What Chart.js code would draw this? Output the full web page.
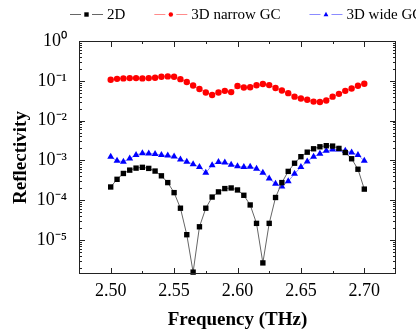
<!DOCTYPE html>
<html>
<head>
<meta charset="utf-8">
<script src="https://cdn.jsdelivr.net/npm/chart.js@4.4.1/dist/chart.umd.min.js"></script>
<style>
    html, body { margin: 0; padding: 0; background: #fff; overflow: hidden; }
    #wrap { width: 416px; height: 332px; }
</style>
</head>
<body>
<div id="wrap"><canvas id="reflectivity-chart"></canvas></div>
<script>
const frequencies = [2.500, 2.505, 2.510, 2.515, 2.520, 2.525, 2.530, 2.535, 2.540, 2.545,
    2.550, 2.555, 2.560, 2.565, 2.570, 2.575, 2.580, 2.585, 2.590, 2.595,
    2.600, 2.605, 2.610, 2.615, 2.620, 2.625, 2.630, 2.635, 2.640, 2.645,
    2.650, 2.655, 2.660, 2.665, 2.670, 2.675, 2.680, 2.685, 2.690, 2.695, 2.700];

const reflectivity_2d = [2.15e-4, 3.35e-4, 4.7e-4, 5.7e-4, 6.4e-4, 6.7e-4, 6.3e-4, 5.4e-4, 4.1e-4, 2.77e-4,
    1.55e-4, 6.3e-5, 1.36e-5, 1.56e-6, 2.15e-5, 6.3e-5, 1.2e-4, 1.62e-4, 1.96e-4, 2.03e-4,
    1.81e-4, 1.33e-4, 7.6e-5, 2.62e-5, 2.66e-6, 2.62e-5, 1.17e-4, 2.77e-4, 5.3e-4, 8.5e-4,
    1.24e-3, 1.61e-3, 1.96e-3, 2.2e-3, 2.34e-3, 2.29e-3, 2.0e-3, 1.58e-3, 1.1e-3, 6.0e-4, 1.9e-4];

const reflectivity_narrow = [0.106, 0.112, 0.115, 0.117, 0.117, 0.115, 0.117, 0.119, 0.126, 0.129,
    0.126, 0.110, 0.093, 0.076, 0.062, 0.051, 0.044, 0.051, 0.056, 0.052,
    0.074, 0.068, 0.069, 0.077, 0.083, 0.078, 0.066, 0.057, 0.049, 0.040,
    0.036, 0.0335, 0.030, 0.0293, 0.032, 0.040, 0.047, 0.056, 0.064, 0.075, 0.084];

const reflectivity_wide = [1.23e-3, 9.8e-4, 9.3e-4, 1.11e-3, 1.37e-3, 1.52e-3, 1.50e-3, 1.45e-3, 1.36e-3, 1.32e-3,
    1.25e-3, 1.06e-3, 9.3e-4, 8.0e-4, 6.8e-4, 4.9e-4, 7.6e-4, 9.1e-4, 8.9e-4, 7.8e-4,
    7.1e-4, 6.8e-4, 6.9e-4, 6.2e-4, 4.9e-4, 3.5e-4, 2.6e-4, 2.2e-4, 3.0e-4, 4.6e-4,
    6.8e-4, 9.4e-4, 1.24e-3, 1.48e-3, 1.74e-3, 1.88e-3, 1.88e-3, 1.74e-3, 1.58e-3, 1.36e-3, 9.8e-4];

const series_labels = ["2D", "3D narrow GC", "3D wide GC"];
const x_major_ticks = [2.50, 2.55, 2.60, 2.65, 2.70];
const y_major_exponents = [0, -1, -2, -3, -4, -5];

const serif = '"Liberation Serif", "Times New Roman", serif';
const superscripts = { '-': '\u207B', '0': '\u2070', '1': '\u00B9', '2': '\u00B2', '3': '\u00B3', '4': '\u2074', '5': '\u2075', '6': '\u2076' };

function to_points(values) {
    return values.map((v, i) => ({ x: frequencies[i], y: v }));
}

function is_major_x(value) {
    return x_major_ticks.some(t => Math.abs(t - value) < 1e-6);
}

function is_decade(value) {
    const e = Math.log10(value);
    return Math.abs(e - Math.round(e)) < 1e-6;
}

// frame round the plot with inward ticks on all four sides
const frame_ticks = {
    id: 'frame_ticks',
    afterDatasetsDraw(chart) {
        const { ctx, chartArea: a, scales: { x, y } } = chart;
        ctx.save();
        ctx.strokeStyle = '#222';
        ctx.lineWidth = 1;
        ctx.strokeRect(a.left + 0.5, a.top + 0.5, a.right - a.left - 1, a.bottom - a.top - 1);
        ctx.beginPath();
        x.ticks.forEach(t => {
            const px = Math.round(x.getPixelForValue(t.value)) + 0.5;
            if (px <= a.left + 1 || px >= a.right - 1) return;
            const len = is_major_x(t.value) ? 6 : 3;
            ctx.moveTo(px, a.bottom); ctx.lineTo(px, a.bottom - len);
            ctx.moveTo(px, a.top); ctx.lineTo(px, a.top + len);
        });
        y.ticks.forEach(t => {
            const py = Math.round(y.getPixelForValue(t.value)) + 0.5;
            if (py <= a.top + 1 || py >= a.bottom - 1) return;
            const len = is_decade(t.value) ? 6 : 3;
            ctx.moveTo(a.left, py); ctx.lineTo(a.left + len, py);
            ctx.moveTo(a.right, py); ctx.lineTo(a.right - len, py);
        });
        ctx.stroke();
        ctx.restore();
    }
};

function draw_marker(ctx, style, cx, cy, r) {
    ctx.beginPath();
    if (style === 'rect') {
        ctx.rect(cx - r, cy - r, 2 * r, 2 * r);
    } else if (style === 'circle') {
        ctx.arc(cx, cy, r, 0, Math.PI * 2);
    } else {
        ctx.moveTo(cx, cy - r * 1.2);
        ctx.lineTo(cx + r * 1.1, cy + r * 0.8);
        ctx.lineTo(cx - r * 1.1, cy + r * 0.8);
        ctx.closePath();
    }
    ctx.fill();
}

// legend drawn as "line - marker - line" like the original figure
const line_legend = {
    id: 'line_legend',
    afterDraw(chart) {
        const ctx = chart.ctx;
        ctx.save();
        ctx.font = '15px ' + serif;
        ctx.textBaseline = 'middle';
        let x = 70;
        const y = 14;
        chart.data.datasets.forEach(ds => {
            ctx.strokeStyle = ds.borderColor;
            ctx.lineWidth = 1;
            ctx.beginPath();
            ctx.moveTo(x, y + 0.5); ctx.lineTo(x + 11, y + 0.5);
            ctx.moveTo(x + 22, y + 0.5); ctx.lineTo(x + 33, y + 0.5);
            ctx.stroke();
            ctx.fillStyle = ds.pointBackgroundColor;
            draw_marker(ctx, ds.pointStyle, x + 16.5, y + 0.5, 2.2);
            ctx.fillStyle = '#000';
            ctx.fillText(ds.label, x + 37, y + 1);
            x += 37 + ctx.measureText(ds.label).width + 29;
        });
        ctx.restore();
    }
};

onload = () => {
    new Chart(document.getElementById('reflectivity-chart'), {
        type: 'line',
        data: {
            datasets: [
                {
                    label: series_labels[0],
                    data: to_points(reflectivity_2d),
                    borderColor: '#666',
                    borderWidth: 1,
                    pointStyle: 'rect',
                    pointRadius: 3.8,
                    pointBackgroundColor: '#000',
                    pointBorderWidth: 0,
                    clip: false
                },
                {
                    label: series_labels[1],
                    data: to_points(reflectivity_narrow),
                    borderColor: 'rgba(255, 90, 90, 0.7)',
                    borderWidth: 1,
                    pointStyle: 'circle',
                    pointRadius: 3.2,
                    pointBackgroundColor: '#f00',
                    pointBorderWidth: 0,
                    clip: false
                },
                {
                    label: series_labels[2],
                    data: to_points(reflectivity_wide),
                    borderColor: 'rgba(90, 90, 255, 0.7)',
                    borderWidth: 1,
                    pointStyle: 'triangle',
                    pointRadius: 4,
                    pointBackgroundColor: '#00f',
                    pointBorderWidth: 0,
                    clip: false
                }
            ]
        },
        options: {
            responsive: true,
            maintainAspectRatio: false,
            animation: false,
            layout: { padding: { top: 41, right: 20, left: 0, bottom: 0 } },
            scales: {
                x: {
                    type: 'linear',
                    min: 2.475,
                    max: 2.725,
                    grid: { display: false, drawTicks: false },
                    border: { display: false },
                    ticks: {
                        stepSize: 0.025,
                        autoSkip: false,
                        maxRotation: 0,
                        padding: 6,
                        color: '#000',
                        font: { family: serif, size: 18 },
                        callback: function (value) {
                            return is_major_x(value) ? value.toFixed(2) : '';
                        }
                    },
                    title: {
                        display: true,
                        text: 'Frequency (THz)',
                        color: '#000',
                        font: { family: serif, size: 19, weight: 'bold' },
                        padding: { top: 0, bottom: 1 }
                    },
                    afterFit: function (scale) {
                        scale.height = 58;
                    }
                },
                y: {
                    type: 'logarithmic',
                    min: 1.4e-6,
                    max: 1,
                    grid: { display: false, drawTicks: false },
                    border: { display: false },
                    afterBuildTicks: function (scale) {
                        const ticks = [];
                        for (let e = -6; e <= 0; e++) {
                            for (let m = 1; m <= 9; m++) {
                                const v = m * Math.pow(10, e);
                                if (v >= scale.min && v <= scale.max) ticks.push({ value: v });
                            }
                        }
                        scale.ticks = ticks;
                    },
                    ticks: {
                        autoSkip: false,
                        padding: 12,
                        color: '#000',
                        font: { family: serif, size: 18 },
                        callback: function (value) {
                            if (!is_decade(value)) return '';
                            const e = Math.round(Math.log10(value));
                            if (!y_major_exponents.includes(e)) return '';
                            return '10' + String(e).split('').map(c => superscripts[c]).join('');
                        }
                    },
                    title: {
                        display: true,
                        text: 'Reflectivity',
                        color: '#000',
                        font: { family: serif, size: 19, weight: 'bold' },
                        padding: { top: 10, bottom: 0 }
                    },
                    afterFit: function (scale) {
                        scale.width = 79;
                    }
                }
            },
            plugins: {
                legend: { display: false },
                tooltip: { enabled: false }
            }
        },
        plugins: [frame_ticks, line_legend]
    });
};
</script>
</body>
</html>
